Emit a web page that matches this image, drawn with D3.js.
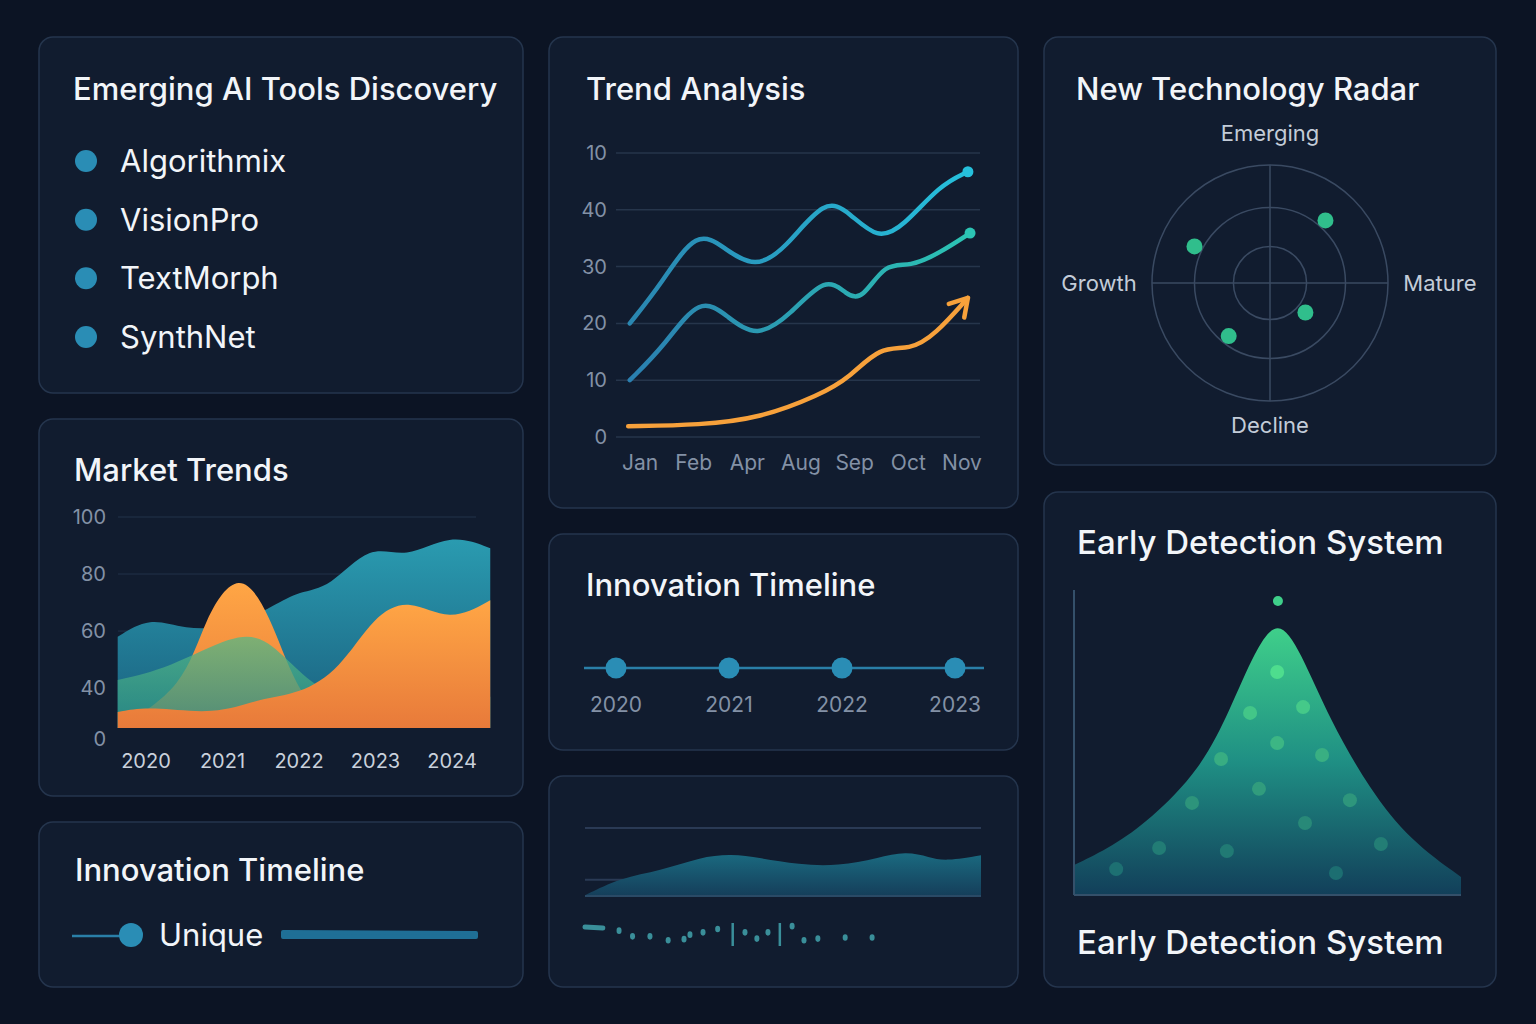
<!DOCTYPE html>
<html><head><meta charset="utf-8">
<script src="https://cdn.jsdelivr.net/npm/d3@7"></script>
<style>html,body{margin:0;background:#0c1424;}svg{display:block;font-family:Inter,"Noto Sans",sans-serif;}</style>
</head><body><svg id="c" width="1536" height="1024"></svg>
<script>
// ---- data ----
const aiTools = ["Algorithmix","VisionPro","TextMorph","SynthNet"];
const trendMonths = ["Jan","Feb","Apr","Aug","Sep","Oct","Nov"];
const trendTickValues = [0,10,20,30,40,50];
const trendTickLabels = ["0","10","20","30","40","10"];
const trendUpper = [[-0.19,20],[0.4,27],[1.06,36.8],[1.6,33],[2.14,29.7],[2.7,33],[3.45,42.2],[3.9,39.5],[4.43,34.7],[4.9,37],[5.59,44.4],[6.11,46.7]];
const trendMiddle = [[-0.19,10],[0.45,16],[1.12,25],[1.65,21],[2.18,17.4],[2.8,21.5],[3.47,28.5],[3.85,25],[4.14,24.1],[4.57,30.8],[5.03,29.9],[5.6,32.5],[6.15,35.9]];
const trendOrange = [[-0.22,1.9],[1.12,2.1],[2.24,3.3],[3.35,7.4],[3.9,10.4],[4.47,16],[5.03,15.3],[5.5,18],[6.11,24.5]];
const marketYears = [2020,2021,2022,2023,2024];
const marketTickValues = [100,80,60,40,22];
const marketTickLabels = ["100","80","60","40","0"];
const marketTeal = [[2019.63,58],[2020.05,65],[2020.5,60.5],[2021.1,61],[2021.68,69],[2022.0,74],[2022.4,75],[2022.93,90.9],[2023.39,85],[2023.98,94.4],[2024.5,89]];
const marketHump = [[2019.63,26],[2020.5,40],[2020.77,65],[2021.22,82.5],[2021.62,66],[2021.95,40],[2022.4,26],[2024.5,26]];
const marketGreen = [[2019.63,42.8],[2020.3,47],[2021.15,59],[2021.55,58],[2021.95,47],[2022.35,38],[2022.75,37],[2024.5,37]];
const marketOrange = [[2019.63,31.6],[2020.05,33.7],[2020.9,30.5],[2021.5,36.5],[2022.0,37.9],[2022.53,46.3],[2022.98,65.6],[2023.44,71.6],[2023.97,63],[2024.5,70.8]];
const timelineYears = ["2020","2021","2022","2023"];
const radarLabels = ["Emerging","Mature","Decline","Growth"];
const radarPoints = [[-0.64,0.31],[0.47,0.53],[0.30,-0.25],[-0.35,-0.45]];
const radarRings = [0.31,0.64,1];
const detectionCurve = [[0,9.8],[10,16],[19.6,24.6],[32.6,41],[40.3,60.7],[46.8,80.3],[52.7,91.1],[58.4,80.3],[66.1,57.4],[76.5,34.4],[86.8,18],[100,5.9]];
const detectionDots = [[52.7,96.4],[52.5,73.1],[45.5,59.7],[59.2,61.6],[52.5,49.8],[38.0,44.6],[64.1,45.9],[47.8,34.8],[30.5,30.2],[71.3,31.1],[59.7,23.6],[22.0,15.4],[39.5,14.4],[79.3,16.7],[10.9,8.5],[67.7,7.2]];
const activityArea = [[0,1],[9,27],[19,37],[29,57],[37,62],[44,56],[54,46],[64,44],[74,56],[81,66],[87,57],[91,51],[100,60]];
const activityMarks = [[8.6,20],[12,10],[16.4,10],[21,3],[25,5],[26.5,13],[29.8,17],[33.5,23],[37.3,0],[40.4,17],[43.4,6],[46.2,17],[49.2,0],[52.3,28],[55.3,3],[58.8,6],[65.7,8],[72.5,8]];

// ---- layout ----
const svg = d3.select("#c");
const defs = svg.append("defs");
svg.append("rect").attr("width",1536).attr("height",1024).attr("fill","#0c1424");
const panels = [[39,37,484,356],[39,419,484,377],[39,822,484,165],[549,37,469,471],[549,534,469,216],[549,776,469,211],[1044,37,452,428],[1044,492,452,495]];
svg.selectAll(".panel").data(panels).join("rect").attr("x",d=>d[0]).attr("y",d=>d[1]).attr("width",d=>d[2]).attr("height",d=>d[3])
  .attr("rx",14).attr("fill","#111c2f").attr("stroke","#25354d").attr("stroke-width",1.5);
function title(t,x,y,s){svg.append("text").attr("x",x).attr("y",y).attr("fill","#f2f5f9").attr("font-size",s||31).attr("font-weight",500).text(t);}
function grad(id,stops,vertical=true){const g=defs.append("linearGradient").attr("id",id).attr("x1",0).attr("y1",0).attr("x2",vertical?0:1).attr("y2",vertical?1:0);
  stops.forEach(s=>g.append("stop").attr("offset",s[0]).attr("stop-color",s[1]).attr("stop-opacity",s[2]==null?1:s[2]));}
const axisCol="#8391a6";

// Panel 1
title("Emerging AI Tools Discovery",73,100);
const p1y = d3.scalePoint().domain(aiTools).range([161,337]);
aiTools.forEach(t=>{svg.append("circle").attr("cx",86).attr("cy",p1y(t)).attr("r",11).attr("fill","#2a8db5");
  svg.append("text").attr("x",120).attr("y",p1y(t)+11).attr("fill","#f2f5f9").attr("font-size",31).text(t);});

// Panel 4 Trend analysis
title("Trend Analysis",586,100);
const tx = d3.scaleLinear().domain([0,6]).range([640,962]);
const ty = d3.scaleLinear().domain([0,50]).range([437,153]);
trendTickValues.forEach((v,i)=>{svg.append("line").attr("x1",616).attr("x2",980).attr("y1",ty(v)).attr("y2",ty(v)).attr("stroke","#26354b").attr("stroke-width",1.5);
  svg.append("text").attr("x",607).attr("y",ty(v)+7).attr("text-anchor","end").attr("fill",axisCol).attr("font-size",20).text(trendTickLabels[i]);});
trendMonths.forEach((m,i)=>svg.append("text").attr("x",tx(i)).attr("y",470).attr("text-anchor","middle").attr("fill",axisCol).attr("font-size",21).text(m));
grad("gU",[[0,"#2a86b0"],[1,"#26c0dc"]],false);
grad("gM",[[0,"#2a7fb0"],[1,"#2cc4b4"]],false);
const tl = d3.line().x(d=>tx(d[0])).y(d=>ty(d[1])).curve(d3.curveBasis);
svg.append("path").attr("d",tl(trendUpper)).attr("fill","none").attr("stroke","url(#gU)").attr("stroke-width",4.5).attr("stroke-linecap","round");
svg.append("path").attr("d",tl(trendMiddle)).attr("fill","none").attr("stroke","url(#gM)").attr("stroke-width",4.5).attr("stroke-linecap","round");
svg.append("path").attr("d",tl(trendOrange)).attr("fill","none").attr("stroke","#f7a13b").attr("stroke-width",4.5).attr("stroke-linecap","round");
[trendUpper,trendMiddle].forEach((s,i)=>{const e=s[s.length-1];svg.append("circle").attr("cx",tx(e[0])).attr("cy",ty(e[1])).attr("r",5.5).attr("fill",i?"#2cc4b4":"#26c0dc");});
{const e=trendOrange[trendOrange.length-1],p=trendOrange[trendOrange.length-2];const ex=tx(e[0]),ey=ty(e[1]);
 const a=Math.atan2(ey-ty(p[1]),ex-tx(p[0]));const L=20;
 svg.append("path").attr("d",`M${ex+L*Math.cos(a+2.6)},${ey+L*Math.sin(a+2.6)}L${ex},${ey}L${ex+L*Math.cos(a-2.6)},${ey+L*Math.sin(a-2.6)}`)
  .attr("fill","none").attr("stroke","#f7a13b").attr("stroke-width",4.5).attr("stroke-linecap","round").attr("stroke-linejoin","round");}

// Panel 2 Market trends
title("Market Trends",74,481);
const mx = d3.scaleLinear().domain([2020,2024]).range([146,452]);
const my = d3.scaleLinear().domain([26,100]).range([728,517]);
marketTickValues.forEach((v,i)=>{ if(i<4) svg.append("line").attr("x1",118).attr("x2",476).attr("y1",my(v)).attr("y2",my(v)).attr("stroke","#22324a").attr("stroke-width",1);
  svg.append("text").attr("x",106).attr("y",my(v)+7).attr("text-anchor","end").attr("fill",axisCol).attr("font-size",20).text(marketTickLabels[i]);});
marketYears.forEach(y=>svg.append("text").attr("x",mx(y)).attr("y",768).attr("text-anchor","middle").attr("fill","#c9d1dc").attr("font-size",20).text(y));
const ma = d3.area().x(d=>mx(d[0])).y0(my(26)).y1(d=>my(d[1])).curve(d3.curveBasis);
grad("gT",[[0,"#2a9bb0"],[1,"#1a5f7e"]]);
grad("gO",[[0,"#ffa645"],[1,"#e87a3a"]]);
grad("gG",[[0,"#56b884",0.75],[1,"#2a8f86",0.8]]);
svg.append("path").attr("d",ma(marketTeal)).attr("fill","url(#gT)");
svg.append("path").attr("d",ma(marketHump)).attr("fill","url(#gO)");
svg.append("path").attr("d",ma(marketGreen)).attr("fill","url(#gG)");
svg.append("path").attr("d",ma(marketOrange)).attr("fill","url(#gO)");

// Panel 3
title("Innovation Timeline",75,881);
svg.append("line").attr("x1",72).attr("x2",120).attr("y1",936).attr("y2",936).attr("stroke","#2a7fa8").attr("stroke-width",2.5);
svg.append("circle").attr("cx",131).attr("cy",935).attr("r",12).attr("fill","#2a8db5");
svg.append("text").attr("x",159).attr("y",946).attr("fill","#f2f5f9").attr("font-size",31).text("Unique");
svg.append("path").attr("d","M283,932L476,933L476,937L283,937Z").attr("fill","#1f6f96").attr("stroke","#1f6f96").attr("stroke-width",4).attr("stroke-linejoin","round");

// Panel 5 timeline
title("Innovation Timeline",586,596);
const px5 = d3.scalePoint().domain(timelineYears).range([616,955]);
svg.append("line").attr("x1",584).attr("x2",984).attr("y1",668).attr("y2",668).attr("stroke","#2a7fa8").attr("stroke-width",2.5);
timelineYears.forEach(y=>{svg.append("circle").attr("cx",px5(y)).attr("cy",668).attr("r",10.5).attr("fill","#2a8db5");
  svg.append("text").attr("x",px5(y)).attr("y",712).attr("text-anchor","middle").attr("fill",axisCol).attr("font-size",21).text(y);});

// Panel 6 activity
const ax = d3.scaleLinear().domain([0,100]).range([585,981]);
const ay = d3.scaleLinear().domain([0,100]).range([896,828]);
svg.append("line").attr("x1",585).attr("x2",981).attr("y1",ay(100)).attr("y2",ay(100)).attr("stroke","#2a3a55").attr("stroke-width",2);
svg.append("line").attr("x1",585).attr("x2",640).attr("y1",ay(24)).attr("y2",ay(24)).attr("stroke","#2a3a55").attr("stroke-width",2);
grad("gA",[[0,"#1a6a80"],[1,"#153e5a"]]);
svg.append("path").attr("d",d3.area().x(d=>ax(d[0])).y0(ay(0)).y1(d=>ay(d[1])).curve(d3.curveBasis)(activityArea)).attr("fill","url(#gA)");
svg.append("line").attr("x1",585).attr("x2",981).attr("y1",ay(0)).attr("y2",ay(0)).attr("stroke","#2a4a66").attr("stroke-width",2);
const my2 = d3.scaleLinear().domain([0,30]).range([942,925]);
svg.append("line").attr("x1",ax(0)).attr("x2",ax(4.5)).attr("y1",927).attr("y2",928).attr("stroke","#3a8f9a").attr("stroke-width",5).attr("stroke-linecap","round");
activityMarks.forEach((d,i)=>{ if(i===8||i===12) svg.append("line").attr("x1",ax(d[0])).attr("x2",ax(d[0])).attr("y1",923).attr("y2",946).attr("stroke","#3a8f9a").attr("stroke-width",2.5);
  else svg.append("ellipse").attr("cx",ax(d[0])).attr("cy",my2(d[1])).attr("rx",2.5).attr("ry",3.3).attr("fill","#3a8f9a");});

// Panel 7 radar
title("New Technology Radar",1076,100);
const rc=[1270,283], rr=d3.scaleLinear().domain([0,1]).range([0,118]);
const rx=d3.scaleLinear().domain([-1,1]).range([rc[0]-118,rc[0]+118]), ry=d3.scaleLinear().domain([-1,1]).range([rc[1]+118,rc[1]-118]);
radarRings.forEach(r=>svg.append("circle").attr("cx",rc[0]).attr("cy",rc[1]).attr("r",rr(r)).attr("fill","none").attr("stroke","#3a4a62").attr("stroke-width",1.5));
svg.append("line").attr("x1",rx(-1)).attr("x2",rx(1)).attr("y1",rc[1]).attr("y2",rc[1]).attr("stroke","#3a4a62").attr("stroke-width",1.5);
svg.append("line").attr("y1",ry(-1)).attr("y2",ry(1)).attr("x1",rc[0]).attr("x2",rc[0]).attr("stroke","#3a4a62").attr("stroke-width",1.5);
const lp=[[0,1.2,"middle",0],[1.13,0,"start",8],[0,-1.2,"middle",8],[-1.13,0,"end",8]];
radarLabels.forEach((l,i)=>svg.append("text").attr("x",rx(lp[i][0])).attr("y",ry(lp[i][1])+lp[i][3]).attr("text-anchor",lp[i][2]).attr("fill","#c3ccd8").attr("font-size",22).text(l));
radarPoints.forEach(p=>svg.append("circle").attr("cx",rx(p[0])).attr("cy",ry(p[1])).attr("r",8).attr("fill","#30be8c"));

// Panel 8 detection
title("Early Detection System",1077,554,33);
title("Early Detection System",1077,954,33);
const dx=d3.scaleLinear().domain([0,100]).range([1074,1461]), dy=d3.scaleLinear().domain([0,100]).range([895,590]);
grad("gD",[[0,"#3fcf8a"],[0.5,"#1f8f84"],[1,"#123f5a"]]);
svg.append("path").attr("d",d3.area().x(d=>dx(d[0])).y0(dy(0)).y1(d=>dy(d[1])).curve(d3.curveBasis)(detectionCurve)).attr("fill","url(#gD)");
svg.append("line").attr("x1",dx(0)).attr("x2",dx(0)).attr("y1",dy(100)).attr("y2",dy(0)).attr("stroke","#34506a").attr("stroke-width",2);
svg.append("line").attr("x1",dx(0)).attr("x2",dx(100)).attr("y1",dy(0)).attr("y2",dy(0)).attr("stroke","#34506a").attr("stroke-width",2);
const dc=d3.scaleLinear().domain([5,75]).range(["#1a6a70","#4fe08f"]).clamp(true);
detectionDots.forEach((d,i)=>svg.append("circle").attr("cx",dx(d[0])).attr("cy",dy(d[1])).attr("r",i===0?5:7).attr("fill",i===0?"#3fcf8a":dc(d[1])));
</script></body></html>
